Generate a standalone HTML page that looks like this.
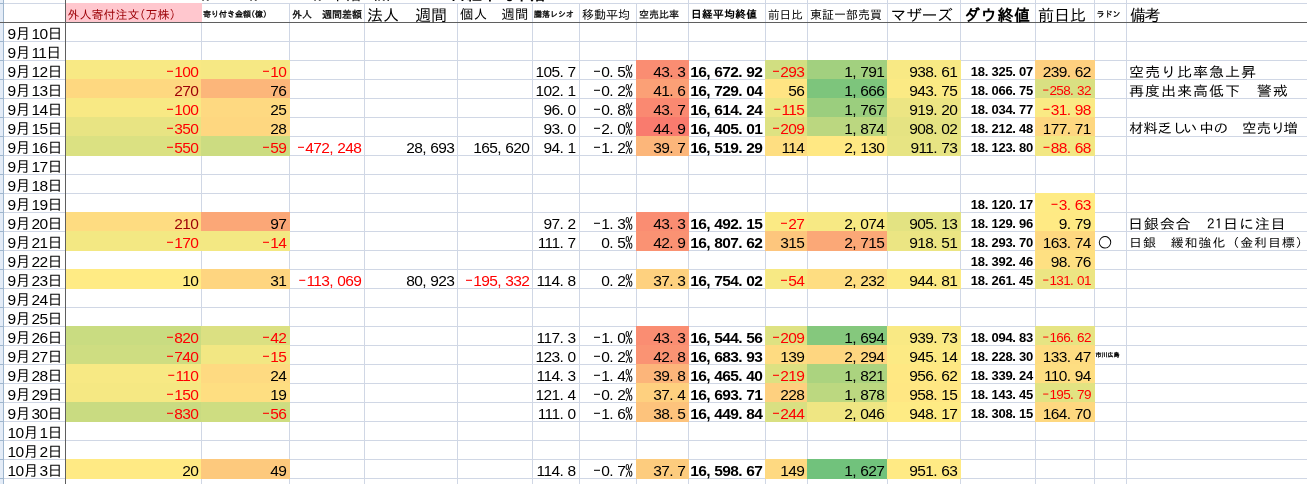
<!DOCTYPE html>
<html lang="ja"><head><meta charset="utf-8"><title>sheet</title>
<style>
html,body{margin:0;padding:0;background:#fff}
body{width:1307px;height:484px;overflow:hidden;position:relative;font-family:"Liberation Sans","IPAGothic",sans-serif;font-size:15px;color:#000;line-height:19px}
#s{position:absolute;left:0;top:0;width:1307px;height:484px;overflow:hidden}
#s div{position:absolute;white-space:nowrap}
#s i{font-style:normal;line-height:0}#s u{text-decoration:none;line-height:0;font-family:"IPAGothic","Liberation Sans",sans-serif}
.h{height:1px;background:#d0d7e5}.v{width:1px;background:#d0d7e5}
.f{height:20px}
.n{height:19px;text-align:right;font-size:15.5px;letter-spacing:-0.62px}
.n i{letter-spacing:3.7px}.n u{font-size:15px;letter-spacing:0.5px}
.t{height:19px;text-align:left;font-family:"IPAGothic","Liberation Sans",sans-serif;transform-origin:0 0}
.a{height:19px;text-align:left;font-size:15.5px;letter-spacing:-0.62px}
.a u{font-size:15px;letter-spacing:1.0px}
.r{color:#f00}.b{font-weight:bold}.m{color:#9c0006}
.d{font-size:13px;letter-spacing:-0.27px;font-weight:bold}
.d i{letter-spacing:3.1px}
.o7{font-size:13.5px;letter-spacing:-0.6px}.o7 i{letter-spacing:3.1px}.o7 u{font-size:13px}
.k{line-height:1;font-family:"IPAGothic","Liberation Sans",sans-serif}
</style></head><body><div id="s">
<div class="h" style="left:4px;top:3px;width:1307px"></div>
<div class="h" style="left:4px;top:41px;width:1307px"></div>
<div class="h" style="left:4px;top:60px;width:1307px"></div>
<div class="h" style="left:4px;top:79px;width:1307px"></div>
<div class="h" style="left:4px;top:98px;width:1307px"></div>
<div class="h" style="left:4px;top:117px;width:1307px"></div>
<div class="h" style="left:4px;top:136px;width:1307px"></div>
<div class="h" style="left:4px;top:155px;width:1307px"></div>
<div class="h" style="left:4px;top:174px;width:1307px"></div>
<div class="h" style="left:4px;top:193px;width:1307px"></div>
<div class="h" style="left:4px;top:212px;width:1307px"></div>
<div class="h" style="left:4px;top:231px;width:1307px"></div>
<div class="h" style="left:4px;top:250px;width:1307px"></div>
<div class="h" style="left:4px;top:269px;width:1307px"></div>
<div class="h" style="left:4px;top:288px;width:1307px"></div>
<div class="h" style="left:4px;top:307px;width:1307px"></div>
<div class="h" style="left:4px;top:326px;width:1307px"></div>
<div class="h" style="left:4px;top:345px;width:1307px"></div>
<div class="h" style="left:4px;top:364px;width:1307px"></div>
<div class="h" style="left:4px;top:383px;width:1307px"></div>
<div class="h" style="left:4px;top:402px;width:1307px"></div>
<div class="h" style="left:4px;top:421px;width:1307px"></div>
<div class="h" style="left:4px;top:440px;width:1307px"></div>
<div class="h" style="left:4px;top:459px;width:1307px"></div>
<div class="h" style="left:4px;top:478px;width:1307px"></div>
<div class="h" style="left:4px;top:497px;width:1307px"></div>
<div class="v" style="left:201px;top:3px;height:484px"></div>
<div class="v" style="left:289px;top:3px;height:484px"></div>
<div class="v" style="left:364px;top:3px;height:484px"></div>
<div class="v" style="left:457px;top:3px;height:484px"></div>
<div class="v" style="left:532px;top:3px;height:484px"></div>
<div class="v" style="left:579px;top:3px;height:484px"></div>
<div class="v" style="left:636px;top:3px;height:484px"></div>
<div class="v" style="left:688px;top:0px;height:484px"></div>
<div class="v" style="left:765px;top:0px;height:484px"></div>
<div class="v" style="left:807px;top:0px;height:484px"></div>
<div class="v" style="left:887px;top:0px;height:484px"></div>
<div class="v" style="left:960px;top:0px;height:484px"></div>
<div class="v" style="left:1035px;top:0px;height:484px"></div>
<div class="v" style="left:1094px;top:0px;height:484px"></div>
<div class="v" style="left:1126px;top:0px;height:484px"></div>
<div class="f" style="left:65px;top:60px;width:137px;background:#f8e984"></div>
<div class="f" style="left:201px;top:60px;width:89px;background:#f6e884"></div>
<div class="f" style="left:636px;top:60px;width:53px;background:#fa8d72"></div>
<div class="f" style="left:765px;top:60px;width:43px;background:#d1de81"></div>
<div class="f" style="left:807px;top:60px;width:81px;background:#a2d07f"></div>
<div class="f" style="left:887px;top:60px;width:74px;background:#f8e984"></div>
<div class="f" style="left:1035px;top:60px;width:60px;background:#fed07f"></div>
<div class="f" style="left:65px;top:79px;width:137px;background:#fed880"></div>
<div class="f" style="left:201px;top:79px;width:89px;background:#fcb67a"></div>
<div class="f" style="left:636px;top:79px;width:53px;background:#fba076"></div>
<div class="f" style="left:765px;top:79px;width:43px;background:#ffe483"></div>
<div class="f" style="left:807px;top:79px;width:81px;background:#7dc57c"></div>
<div class="f" style="left:887px;top:79px;width:74px;background:#fbea84"></div>
<div class="f" style="left:1035px;top:79px;width:60px;background:#d9e082"></div>
<div class="f" style="left:65px;top:98px;width:137px;background:#f8e984"></div>
<div class="f" style="left:201px;top:98px;width:89px;background:#fed981"></div>
<div class="f" style="left:636px;top:98px;width:53px;background:#fa8971"></div>
<div class="f" style="left:765px;top:98px;width:43px;background:#ede683"></div>
<div class="f" style="left:807px;top:98px;width:81px;background:#9bce7e"></div>
<div class="f" style="left:887px;top:98px;width:74px;background:#ece583"></div>
<div class="f" style="left:1035px;top:98px;width:60px;background:#faea84"></div>
<div class="f" style="left:65px;top:117px;width:137px;background:#e8e483"></div>
<div class="f" style="left:201px;top:117px;width:89px;background:#fed780"></div>
<div class="f" style="left:636px;top:117px;width:53px;background:#f97b6e"></div>
<div class="f" style="left:765px;top:117px;width:43px;background:#dee282"></div>
<div class="f" style="left:807px;top:117px;width:81px;background:#bbd780"></div>
<div class="f" style="left:887px;top:117px;width:74px;background:#e5e382"></div>
<div class="f" style="left:1035px;top:117px;width:60px;background:#fed780"></div>
<div class="f" style="left:65px;top:136px;width:137px;background:#dbe182"></div>
<div class="f" style="left:201px;top:136px;width:89px;background:#ccdc81"></div>
<div class="f" style="left:636px;top:136px;width:53px;background:#fcb67a"></div>
<div class="f" style="left:765px;top:136px;width:43px;background:#fede81"></div>
<div class="f" style="left:807px;top:136px;width:81px;background:#ffe883"></div>
<div class="f" style="left:887px;top:136px;width:74px;background:#e7e483"></div>
<div class="f" style="left:1035px;top:136px;width:60px;background:#f2e783"></div>
<div class="f" style="left:1035px;top:193px;width:60px;background:#feeb84"></div>
<div class="f" style="left:65px;top:212px;width:137px;background:#fedc81"></div>
<div class="f" style="left:201px;top:212px;width:89px;background:#fba777"></div>
<div class="f" style="left:636px;top:212px;width:53px;background:#fa8d72"></div>
<div class="f" style="left:765px;top:212px;width:43px;background:#fbea84"></div>
<div class="f" style="left:807px;top:212px;width:81px;background:#f7e984"></div>
<div class="f" style="left:887px;top:212px;width:74px;background:#e3e382"></div>
<div class="f" style="left:1035px;top:212px;width:60px;background:#ffea84"></div>
<div class="f" style="left:65px;top:231px;width:137px;background:#f3e883"></div>
<div class="f" style="left:201px;top:231px;width:89px;background:#f3e883"></div>
<div class="f" style="left:636px;top:231px;width:53px;background:#fa9273"></div>
<div class="f" style="left:765px;top:231px;width:43px;background:#fdc67d"></div>
<div class="f" style="left:807px;top:231px;width:81px;background:#fba877"></div>
<div class="f" style="left:887px;top:231px;width:74px;background:#ebe583"></div>
<div class="f" style="left:1035px;top:231px;width:60px;background:#fed880"></div>
<div class="f" style="left:1035px;top:250px;width:60px;background:#fee082"></div>
<div class="f" style="left:65px;top:269px;width:137px;background:#ffeb84"></div>
<div class="f" style="left:201px;top:269px;width:89px;background:#fed580"></div>
<div class="f" style="left:636px;top:269px;width:53px;background:#fed17f"></div>
<div class="f" style="left:765px;top:269px;width:43px;background:#f7e984"></div>
<div class="f" style="left:807px;top:269px;width:81px;background:#fedd81"></div>
<div class="f" style="left:887px;top:269px;width:74px;background:#fcea84"></div>
<div class="f" style="left:1035px;top:269px;width:60px;background:#ece583"></div>
<div class="f" style="left:65px;top:326px;width:137px;background:#c9dc81"></div>
<div class="f" style="left:201px;top:326px;width:89px;background:#dbe082"></div>
<div class="f" style="left:636px;top:326px;width:53px;background:#fa8d72"></div>
<div class="f" style="left:765px;top:326px;width:43px;background:#dee282"></div>
<div class="f" style="left:807px;top:326px;width:81px;background:#85c87d"></div>
<div class="f" style="left:887px;top:326px;width:74px;background:#f9e984"></div>
<div class="f" style="left:1035px;top:326px;width:60px;background:#e6e483"></div>
<div class="f" style="left:65px;top:345px;width:137px;background:#cedd81"></div>
<div class="f" style="left:201px;top:345px;width:89px;background:#f2e783"></div>
<div class="f" style="left:636px;top:345px;width:53px;background:#fa9373"></div>
<div class="f" style="left:765px;top:345px;width:43px;background:#fedb81"></div>
<div class="f" style="left:807px;top:345px;width:81px;background:#fed680"></div>
<div class="f" style="left:887px;top:345px;width:74px;background:#fcea84"></div>
<div class="f" style="left:1035px;top:345px;width:60px;background:#fedc81"></div>
<div class="f" style="left:65px;top:364px;width:137px;background:#f7e984"></div>
<div class="f" style="left:201px;top:364px;width:89px;background:#feda81"></div>
<div class="f" style="left:636px;top:364px;width:53px;background:#fcb57a"></div>
<div class="f" style="left:765px;top:364px;width:43px;background:#dde182"></div>
<div class="f" style="left:807px;top:364px;width:81px;background:#abd37f"></div>
<div class="f" style="left:887px;top:364px;width:74px;background:#ffe883"></div>
<div class="f" style="left:1035px;top:364px;width:60px;background:#fede82"></div>
<div class="f" style="left:65px;top:383px;width:137px;background:#f5e883"></div>
<div class="f" style="left:201px;top:383px;width:89px;background:#fede81"></div>
<div class="f" style="left:636px;top:383px;width:53px;background:#fed07f"></div>
<div class="f" style="left:765px;top:383px;width:43px;background:#fed07f"></div>
<div class="f" style="left:807px;top:383px;width:81px;background:#bcd880"></div>
<div class="f" style="left:887px;top:383px;width:74px;background:#ffe783"></div>
<div class="f" style="left:1035px;top:383px;width:60px;background:#e2e382"></div>
<div class="f" style="left:65px;top:402px;width:137px;background:#c9db81"></div>
<div class="f" style="left:201px;top:402px;width:89px;background:#cedd81"></div>
<div class="f" style="left:636px;top:402px;width:53px;background:#fdc37c"></div>
<div class="f" style="left:765px;top:402px;width:43px;background:#d9e082"></div>
<div class="f" style="left:807px;top:402px;width:81px;background:#efe683"></div>
<div class="f" style="left:887px;top:402px;width:74px;background:#feeb84"></div>
<div class="f" style="left:1035px;top:402px;width:60px;background:#fed880"></div>
<div class="f" style="left:65px;top:459px;width:137px;background:#ffea84"></div>
<div class="f" style="left:201px;top:459px;width:89px;background:#fdc97d"></div>
<div class="f" style="left:636px;top:459px;width:53px;background:#fdcc7e"></div>
<div class="f" style="left:765px;top:459px;width:43px;background:#fed981"></div>
<div class="f" style="left:807px;top:459px;width:81px;background:#71c27c"></div>
<div class="f" style="left:887px;top:459px;width:74px;background:#ffea84"></div>
<div style="left:66px;top:3px;width:136px;height:19px;background:#ffc7ce"></div>
<div style="left:0;top:0;width:3px;height:484px;background:#e4ecf7"></div>
<div style="left:3px;top:0;width:1px;height:484px;background:#9eb6ce"></div>
<div style="left:0;top:3px;width:3px;height:1px;background:#9eb6ce"></div>
<div style="left:0;top:41px;width:3px;height:1px;background:#9eb6ce"></div>
<div style="left:0;top:60px;width:3px;height:1px;background:#9eb6ce"></div>
<div style="left:0;top:79px;width:3px;height:1px;background:#9eb6ce"></div>
<div style="left:0;top:98px;width:3px;height:1px;background:#9eb6ce"></div>
<div style="left:0;top:117px;width:3px;height:1px;background:#9eb6ce"></div>
<div style="left:0;top:136px;width:3px;height:1px;background:#9eb6ce"></div>
<div style="left:0;top:155px;width:3px;height:1px;background:#9eb6ce"></div>
<div style="left:0;top:174px;width:3px;height:1px;background:#9eb6ce"></div>
<div style="left:0;top:193px;width:3px;height:1px;background:#9eb6ce"></div>
<div style="left:0;top:212px;width:3px;height:1px;background:#9eb6ce"></div>
<div style="left:0;top:231px;width:3px;height:1px;background:#9eb6ce"></div>
<div style="left:0;top:250px;width:3px;height:1px;background:#9eb6ce"></div>
<div style="left:0;top:269px;width:3px;height:1px;background:#9eb6ce"></div>
<div style="left:0;top:288px;width:3px;height:1px;background:#9eb6ce"></div>
<div style="left:0;top:307px;width:3px;height:1px;background:#9eb6ce"></div>
<div style="left:0;top:326px;width:3px;height:1px;background:#9eb6ce"></div>
<div style="left:0;top:345px;width:3px;height:1px;background:#9eb6ce"></div>
<div style="left:0;top:364px;width:3px;height:1px;background:#9eb6ce"></div>
<div style="left:0;top:383px;width:3px;height:1px;background:#9eb6ce"></div>
<div style="left:0;top:402px;width:3px;height:1px;background:#9eb6ce"></div>
<div style="left:0;top:421px;width:3px;height:1px;background:#9eb6ce"></div>
<div style="left:0;top:440px;width:3px;height:1px;background:#9eb6ce"></div>
<div style="left:0;top:459px;width:3px;height:1px;background:#9eb6ce"></div>
<div style="left:0;top:478px;width:3px;height:1px;background:#9eb6ce"></div>
<div style="left:0;top:497px;width:3px;height:1px;background:#9eb6ce"></div>
<div style="left:0;top:22px;width:1307px;height:1px;background:#5f5f5f"></div>
<div style="left:65px;top:0;width:1px;height:484px;background:#5f5f5f"></div>
<div class="k" style="left:202px;top:-14.4px;font-size:16px;">%</div>
<div class="k" style="left:250px;top:-14.4px;font-size:16px;">%</div>
<div class="k" style="left:314px;top:-14.4px;font-size:16px;">% 下落 (%)</div>
<div class="k" style="left:450px;top:-14.4px;font-size:16px;font-weight:bold">日経平均下落</div>
<div class="k" style="left:67.5px;top:8px;font-size:12px;color:#9c0006">外人寄付注文(万株)</div>
<div class="k" style="left:203px;top:10px;font-size:8px;-webkit-text-stroke:0.3px #000">寄り付き金額(億)</div>
<div class="k" style="left:292px;top:9px;font-size:10px;-webkit-text-stroke:0.3px #000">外人　週間差額</div>
<div class="k" style="left:367px;top:7px;font-size:16px;">法人　週間</div>
<div class="k" style="left:460px;top:8px;font-size:13.33px;letter-spacing:0.4px">個人　週間</div>
<div class="k" style="left:534px;top:10px;font-size:8px;-webkit-text-stroke:0.3px #000">騰落レシオ</div>
<div class="k" style="left:582px;top:8px;font-size:12px;">移動平均</div>
<div class="k" style="left:639px;top:9px;font-size:10px;-webkit-text-stroke:0.2px #000">空売比率</div>
<div class="k" style="left:691px;top:9px;font-size:10.67px;font-weight:bold;letter-spacing:0.4px">日経平均終値</div>
<div class="k" style="left:768px;top:8.6px;font-size:11.6px;">前日比</div>
<div class="k" style="left:810px;top:8px;font-size:12px;">東証一部売買</div>
<div class="k" style="left:890.5px;top:7px;font-size:16px;letter-spacing:-0.5px">マザーズ</div>
<div class="k" style="left:964px;top:7px;font-size:16px;font-weight:bold;letter-spacing:0.7px">ダウ終値</div>
<div class="k" style="left:1038px;top:7px;font-size:16px;">前日比</div>
<div class="k" style="left:1096.5px;top:10px;font-size:8px;-webkit-text-stroke:0.3px #000">ラドン</div>
<div class="k" style="left:1130px;top:7px;font-size:16px;letter-spacing:-1.5px">備考</div>
<div class="a" style="left:7.4px;top:24px">9<u>月</u>10<u>日</u></div>
<div class="a" style="left:7.4px;top:43px">9<u>月</u>11<u>日</u></div>
<div class="a" style="left:7.4px;top:62px">9<u>月</u>12<u>日</u></div>
<div class="a" style="left:7.4px;top:81px">9<u>月</u>13<u>日</u></div>
<div class="a" style="left:7.4px;top:100px">9<u>月</u>14<u>日</u></div>
<div class="a" style="left:7.4px;top:119px">9<u>月</u>15<u>日</u></div>
<div class="a" style="left:7.4px;top:138px">9<u>月</u>16<u>日</u></div>
<div class="a" style="left:7.4px;top:157px">9<u>月</u>17<u>日</u></div>
<div class="a" style="left:7.4px;top:176px">9<u>月</u>18<u>日</u></div>
<div class="a" style="left:7.4px;top:195px">9<u>月</u>19<u>日</u></div>
<div class="a" style="left:7.4px;top:214px">9<u>月</u>20<u>日</u></div>
<div class="a" style="left:7.4px;top:233px">9<u>月</u>21<u>日</u></div>
<div class="a" style="left:7.4px;top:252px">9<u>月</u>22<u>日</u></div>
<div class="a" style="left:7.4px;top:271px">9<u>月</u>23<u>日</u></div>
<div class="a" style="left:7.4px;top:290px">9<u>月</u>24<u>日</u></div>
<div class="a" style="left:7.4px;top:309px">9<u>月</u>25<u>日</u></div>
<div class="a" style="left:7.4px;top:328px">9<u>月</u>26<u>日</u></div>
<div class="a" style="left:7.4px;top:347px">9<u>月</u>27<u>日</u></div>
<div class="a" style="left:7.4px;top:366px">9<u>月</u>28<u>日</u></div>
<div class="a" style="left:7.4px;top:385px">9<u>月</u>29<u>日</u></div>
<div class="a" style="left:7.4px;top:404px">9<u>月</u>30<u>日</u></div>
<div class="a" style="left:7.4px;top:423px">10<u>月</u>1<u>日</u></div>
<div class="a" style="left:7.4px;top:442px">10<u>月</u>2<u>日</u></div>
<div class="a" style="left:7.4px;top:461px">10<u>月</u>3<u>日</u></div>
<div class="n r" style="left:66px;top:62px;width:132.3px"><u>-</u>100</div>
<div class="n r" style="left:202px;top:62px;width:84.3px"><u>-</u>10</div>
<div class="n" style="left:533px;top:62px;width:42.5px">105<i>.</i>7</div>
<div class="n" style="left:580px;top:62px;width:53.3px"><u>-</u>0<i>.</i>5<u>%</u></div>
<div class="n" style="left:637px;top:62px;width:48.3px">43<i>.</i>3</div>
<div class="n b" style="left:689px;top:62px;width:73.3px">16<i>,</i>672<i>.</i>92</div>
<div class="n r" style="left:766px;top:62px;width:38.3px"><u>-</u>293</div>
<div class="n" style="left:808px;top:62px;width:76.3px">1<i>,</i>791</div>
<div class="n" style="left:888px;top:62px;width:69.3px">938<i>.</i>61</div>
<div class="n d" style="left:961px;top:62px;width:72px">18<i>.</i>325<i>.</i>07</div>
<div class="n" style="left:1036px;top:62px;width:54.8px">239<i>.</i>62</div>
<div class="t" style="left:1128.5px;top:63px;font-size:14px;letter-spacing:0.8px;transform:scaleX(1.08)">空売り比率急上昇</div>
<div class="n m" style="left:66px;top:81px;width:132.3px">270</div>
<div class="n" style="left:202px;top:81px;width:84.3px">76</div>
<div class="n" style="left:533px;top:81px;width:42.5px">102<i>.</i>1</div>
<div class="n" style="left:580px;top:81px;width:53.3px"><u>-</u>0<i>.</i>2<u>%</u></div>
<div class="n" style="left:637px;top:81px;width:48.3px">41<i>.</i>6</div>
<div class="n b" style="left:689px;top:81px;width:73.3px">16<i>,</i>729<i>.</i>04</div>
<div class="n" style="left:766px;top:81px;width:38.3px">56</div>
<div class="n" style="left:808px;top:81px;width:76.3px">1<i>,</i>666</div>
<div class="n" style="left:888px;top:81px;width:69.3px">943<i>.</i>75</div>
<div class="n d" style="left:961px;top:81px;width:72px">18<i>.</i>066<i>.</i>75</div>
<div class="n r o7" style="left:1036px;top:81px;width:54.8px"><u>-</u>258<i>.</i>32</div>
<div class="t" style="left:1128.5px;top:82px;font-size:14px;letter-spacing:0.8px;transform:scaleX(1.08)">再度出来高低下　警戒</div>
<div class="n r" style="left:66px;top:100px;width:132.3px"><u>-</u>100</div>
<div class="n" style="left:202px;top:100px;width:84.3px">25</div>
<div class="n" style="left:533px;top:100px;width:42.5px">96<i>.</i>0</div>
<div class="n" style="left:580px;top:100px;width:53.3px"><u>-</u>0<i>.</i>8<u>%</u></div>
<div class="n" style="left:637px;top:100px;width:48.3px">43<i>.</i>7</div>
<div class="n b" style="left:689px;top:100px;width:73.3px">16<i>,</i>614<i>.</i>24</div>
<div class="n r" style="left:766px;top:100px;width:38.3px"><u>-</u>115</div>
<div class="n" style="left:808px;top:100px;width:76.3px">1<i>,</i>767</div>
<div class="n" style="left:888px;top:100px;width:69.3px">919<i>.</i>20</div>
<div class="n d" style="left:961px;top:100px;width:72px">18<i>.</i>034<i>.</i>77</div>
<div class="n r" style="left:1036px;top:100px;width:54.8px"><u>-</u>31<i>.</i>98</div>
<div class="n r" style="left:66px;top:119px;width:132.3px"><u>-</u>350</div>
<div class="n" style="left:202px;top:119px;width:84.3px">28</div>
<div class="n" style="left:533px;top:119px;width:42.5px">93<i>.</i>0</div>
<div class="n" style="left:580px;top:119px;width:53.3px"><u>-</u>2<i>.</i>0<u>%</u></div>
<div class="n" style="left:637px;top:119px;width:48.3px">44<i>.</i>9</div>
<div class="n b" style="left:689px;top:119px;width:73.3px">16<i>,</i>405<i>.</i>01</div>
<div class="n r" style="left:766px;top:119px;width:38.3px"><u>-</u>209</div>
<div class="n" style="left:808px;top:119px;width:76.3px">1<i>,</i>874</div>
<div class="n" style="left:888px;top:119px;width:69.3px">908<i>.</i>02</div>
<div class="n d" style="left:961px;top:119px;width:72px">18<i>.</i>212<i>.</i>48</div>
<div class="n" style="left:1036px;top:119px;width:54.8px">177<i>.</i>71</div>
<div class="t" style="left:1128.5px;top:119px;font-size:13.5px;letter-spacing:-0.25px;transform:scaleX(1.08)">材料乏<span style="letter-spacing:-3.3px">し</span><span style="letter-spacing:1.5px">い</span>中の　空売<span style="letter-spacing:-1.8px">り</span>増</div>
<div class="n r" style="left:66px;top:138px;width:132.3px"><u>-</u>550</div>
<div class="n r" style="left:202px;top:138px;width:84.3px"><u>-</u>59</div>
<div class="n r" style="left:290px;top:138px;width:71.3px"><u>-</u>472<i>,</i>248</div>
<div class="n" style="left:365px;top:138px;width:89.3px">28<i>,</i>693</div>
<div class="n" style="left:458px;top:138px;width:71.3px">165<i>,</i>620</div>
<div class="n" style="left:533px;top:138px;width:42.5px">94<i>.</i>1</div>
<div class="n" style="left:580px;top:138px;width:53.3px"><u>-</u>1<i>.</i>2<u>%</u></div>
<div class="n" style="left:637px;top:138px;width:48.3px">39<i>.</i>7</div>
<div class="n b" style="left:689px;top:138px;width:73.3px">16<i>,</i>519<i>.</i>29</div>
<div class="n" style="left:766px;top:138px;width:38.3px">114</div>
<div class="n" style="left:808px;top:138px;width:76.3px">2<i>,</i>130</div>
<div class="n" style="left:888px;top:138px;width:69.3px">911<i>.</i>73</div>
<div class="n d" style="left:961px;top:138px;width:72px">18<i>.</i>123<i>.</i>80</div>
<div class="n r" style="left:1036px;top:138px;width:54.8px"><u>-</u>88<i>.</i>68</div>
<div class="n d" style="left:961px;top:195px;width:72px">18<i>.</i>120<i>.</i>17</div>
<div class="n r" style="left:1036px;top:195px;width:54.8px"><u>-</u>3<i>.</i>63</div>
<div class="n m" style="left:66px;top:214px;width:132.3px">210</div>
<div class="n" style="left:202px;top:214px;width:84.3px">97</div>
<div class="n" style="left:533px;top:214px;width:42.5px">97<i>.</i>2</div>
<div class="n" style="left:580px;top:214px;width:53.3px"><u>-</u>1<i>.</i>3<u>%</u></div>
<div class="n" style="left:637px;top:214px;width:48.3px">43<i>.</i>3</div>
<div class="n b" style="left:689px;top:214px;width:73.3px">16<i>,</i>492<i>.</i>15</div>
<div class="n r" style="left:766px;top:214px;width:38.3px"><u>-</u>27</div>
<div class="n" style="left:808px;top:214px;width:76.3px">2<i>,</i>074</div>
<div class="n" style="left:888px;top:214px;width:69.3px">905<i>.</i>13</div>
<div class="n d" style="left:961px;top:214px;width:72px">18<i>.</i>129<i>.</i>96</div>
<div class="n" style="left:1036px;top:214px;width:54.8px">9<i>.</i>79</div>
<div class="t" style="left:1128px;top:214.6px;font-size:14px;letter-spacing:0.65px;transform:scaleX(1.08)">日銀会合　<span style="letter-spacing:0.4px">21</span>日に注目</div>
<div class="n r" style="left:66px;top:233px;width:132.3px"><u>-</u>170</div>
<div class="n r" style="left:202px;top:233px;width:84.3px"><u>-</u>14</div>
<div class="n" style="left:533px;top:233px;width:42.5px">111<i>.</i>7</div>
<div class="n" style="left:580px;top:233px;width:53.3px">0<i>.</i>5<u>%</u></div>
<div class="n" style="left:637px;top:233px;width:48.3px">42<i>.</i>9</div>
<div class="n b" style="left:689px;top:233px;width:73.3px">16<i>,</i>807<i>.</i>62</div>
<div class="n" style="left:766px;top:233px;width:38.3px">315</div>
<div class="n" style="left:808px;top:233px;width:76.3px">2<i>,</i>715</div>
<div class="n" style="left:888px;top:233px;width:69.3px">918<i>.</i>51</div>
<div class="n d" style="left:961px;top:233px;width:72px">18<i>.</i>293<i>.</i>70</div>
<div class="n" style="left:1036px;top:233px;width:54.8px">163<i>.</i>74</div>
<div class="t" style="left:1097.5px;top:232.5px;font-size:15px">○</div>
<div class="t" style="left:1128.5px;top:233px;font-size:12px;letter-spacing:0.87px;transform:scaleX(1.08)">日銀　緩和強化（金利目標）</div>
<div class="n d" style="left:961px;top:252px;width:72px">18<i>.</i>392<i>.</i>46</div>
<div class="n" style="left:1036px;top:252px;width:54.8px">98<i>.</i>76</div>
<div class="n" style="left:66px;top:271px;width:132.3px">10</div>
<div class="n" style="left:202px;top:271px;width:84.3px">31</div>
<div class="n r" style="left:290px;top:271px;width:71.3px"><u>-</u>113<i>,</i>069</div>
<div class="n" style="left:365px;top:271px;width:89.3px">80<i>,</i>923</div>
<div class="n r" style="left:458px;top:271px;width:71.3px"><u>-</u>195<i>,</i>332</div>
<div class="n" style="left:533px;top:271px;width:42.5px">114<i>.</i>8</div>
<div class="n" style="left:580px;top:271px;width:53.3px">0<i>.</i>2<u>%</u></div>
<div class="n" style="left:637px;top:271px;width:48.3px">37<i>.</i>3</div>
<div class="n b" style="left:689px;top:271px;width:73.3px">16<i>,</i>754<i>.</i>02</div>
<div class="n r" style="left:766px;top:271px;width:38.3px"><u>-</u>54</div>
<div class="n" style="left:808px;top:271px;width:76.3px">2<i>,</i>232</div>
<div class="n" style="left:888px;top:271px;width:69.3px">944<i>.</i>81</div>
<div class="n d" style="left:961px;top:271px;width:72px">18<i>.</i>261<i>.</i>45</div>
<div class="n r o7" style="left:1036px;top:271px;width:54.8px"><u>-</u>131<i>.</i>01</div>
<div class="n r" style="left:66px;top:328px;width:132.3px"><u>-</u>820</div>
<div class="n r" style="left:202px;top:328px;width:84.3px"><u>-</u>42</div>
<div class="n" style="left:533px;top:328px;width:42.5px">117<i>.</i>3</div>
<div class="n" style="left:580px;top:328px;width:53.3px"><u>-</u>1<i>.</i>0<u>%</u></div>
<div class="n" style="left:637px;top:328px;width:48.3px">43<i>.</i>3</div>
<div class="n b" style="left:689px;top:328px;width:73.3px">16<i>,</i>544<i>.</i>56</div>
<div class="n r" style="left:766px;top:328px;width:38.3px"><u>-</u>209</div>
<div class="n" style="left:808px;top:328px;width:76.3px">1<i>,</i>694</div>
<div class="n" style="left:888px;top:328px;width:69.3px">939<i>.</i>73</div>
<div class="n d" style="left:961px;top:328px;width:72px">18<i>.</i>094<i>.</i>83</div>
<div class="n r o7" style="left:1036px;top:328px;width:54.8px"><u>-</u>166<i>.</i>62</div>
<div class="n r" style="left:66px;top:347px;width:132.3px"><u>-</u>740</div>
<div class="n r" style="left:202px;top:347px;width:84.3px"><u>-</u>15</div>
<div class="n" style="left:533px;top:347px;width:42.5px">123<i>.</i>0</div>
<div class="n" style="left:580px;top:347px;width:53.3px"><u>-</u>0<i>.</i>2<u>%</u></div>
<div class="n" style="left:637px;top:347px;width:48.3px">42<i>.</i>8</div>
<div class="n b" style="left:689px;top:347px;width:73.3px">16<i>,</i>683<i>.</i>93</div>
<div class="n" style="left:766px;top:347px;width:38.3px">139</div>
<div class="n" style="left:808px;top:347px;width:76.3px">2<i>,</i>294</div>
<div class="n" style="left:888px;top:347px;width:69.3px">945<i>.</i>14</div>
<div class="n d" style="left:961px;top:347px;width:72px">18<i>.</i>228<i>.</i>30</div>
<div class="n" style="left:1036px;top:347px;width:54.8px">133<i>.</i>47</div>
<div class="k" style="left:1095.5px;top:352px;font-size:6px;-webkit-text-stroke:0.3px #000">市川広島</div>
<div class="n r" style="left:66px;top:366px;width:132.3px"><u>-</u>110</div>
<div class="n" style="left:202px;top:366px;width:84.3px">24</div>
<div class="n" style="left:533px;top:366px;width:42.5px">114<i>.</i>3</div>
<div class="n" style="left:580px;top:366px;width:53.3px"><u>-</u>1<i>.</i>4<u>%</u></div>
<div class="n" style="left:637px;top:366px;width:48.3px">39<i>.</i>8</div>
<div class="n b" style="left:689px;top:366px;width:73.3px">16<i>,</i>465<i>.</i>40</div>
<div class="n r" style="left:766px;top:366px;width:38.3px"><u>-</u>219</div>
<div class="n" style="left:808px;top:366px;width:76.3px">1<i>,</i>821</div>
<div class="n" style="left:888px;top:366px;width:69.3px">956<i>.</i>62</div>
<div class="n d" style="left:961px;top:366px;width:72px">18<i>.</i>339<i>.</i>24</div>
<div class="n" style="left:1036px;top:366px;width:54.8px">110<i>.</i>94</div>
<div class="n r" style="left:66px;top:385px;width:132.3px"><u>-</u>150</div>
<div class="n" style="left:202px;top:385px;width:84.3px">19</div>
<div class="n" style="left:533px;top:385px;width:42.5px">121<i>.</i>4</div>
<div class="n" style="left:580px;top:385px;width:53.3px"><u>-</u>0<i>.</i>2<u>%</u></div>
<div class="n" style="left:637px;top:385px;width:48.3px">37<i>.</i>4</div>
<div class="n b" style="left:689px;top:385px;width:73.3px">16<i>,</i>693<i>.</i>71</div>
<div class="n" style="left:766px;top:385px;width:38.3px">228</div>
<div class="n" style="left:808px;top:385px;width:76.3px">1<i>,</i>878</div>
<div class="n" style="left:888px;top:385px;width:69.3px">958<i>.</i>15</div>
<div class="n d" style="left:961px;top:385px;width:72px">18<i>.</i>143<i>.</i>45</div>
<div class="n r o7" style="left:1036px;top:385px;width:54.8px"><u>-</u>195<i>.</i>79</div>
<div class="n r" style="left:66px;top:404px;width:132.3px"><u>-</u>830</div>
<div class="n r" style="left:202px;top:404px;width:84.3px"><u>-</u>56</div>
<div class="n" style="left:533px;top:404px;width:42.5px">111<i>.</i>0</div>
<div class="n" style="left:580px;top:404px;width:53.3px"><u>-</u>1<i>.</i>6<u>%</u></div>
<div class="n" style="left:637px;top:404px;width:48.3px">38<i>.</i>5</div>
<div class="n b" style="left:689px;top:404px;width:73.3px">16<i>,</i>449<i>.</i>84</div>
<div class="n r" style="left:766px;top:404px;width:38.3px"><u>-</u>244</div>
<div class="n" style="left:808px;top:404px;width:76.3px">2<i>,</i>046</div>
<div class="n" style="left:888px;top:404px;width:69.3px">948<i>.</i>17</div>
<div class="n d" style="left:961px;top:404px;width:72px">18<i>.</i>308<i>.</i>15</div>
<div class="n" style="left:1036px;top:404px;width:54.8px">164<i>.</i>70</div>
<div class="n" style="left:66px;top:461px;width:132.3px">20</div>
<div class="n" style="left:202px;top:461px;width:84.3px">49</div>
<div class="n" style="left:533px;top:461px;width:42.5px">114<i>.</i>8</div>
<div class="n" style="left:580px;top:461px;width:53.3px"><u>-</u>0<i>.</i>7<u>%</u></div>
<div class="n" style="left:637px;top:461px;width:48.3px">37<i>.</i>7</div>
<div class="n b" style="left:689px;top:461px;width:73.3px">16<i>,</i>598<i>.</i>67</div>
<div class="n" style="left:766px;top:461px;width:38.3px">149</div>
<div class="n" style="left:808px;top:461px;width:76.3px">1<i>,</i>627</div>
<div class="n" style="left:888px;top:461px;width:69.3px">951<i>.</i>63</div>
</div></body></html>
